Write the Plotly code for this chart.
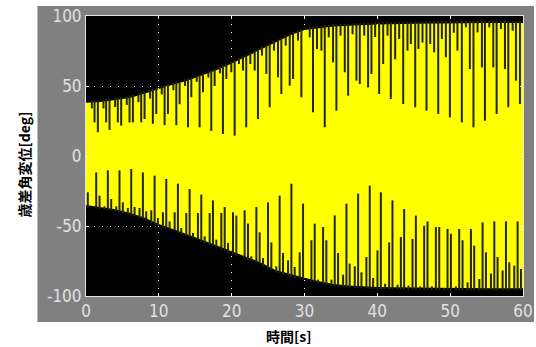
import numpy as np
import plotly.graph_objects as go

# Envelope of the precession angle oscillation [deg]
env_t = [0, 2, 4, 6, 8, 10, 12, 14, 16, 18, 20, 22, 24, 26, 28, 30, 32, 34, 36, 38, 40, 45, 50, 55, 60]
env_upper = [38, 38.5, 40, 41.5, 44.5, 48, 51, 54, 57.5, 61.5, 66, 71, 76.5, 81, 86, 90, 91.5,
             92.5, 93, 93.5, 94, 94.5, 95, 95, 95]
env_lower = [-35, -36.5, -38, -40.5, -44, -48.5, -52, -56, -60, -64, -68.5, -72, -76, -81.5, -84.5,
             -87, -89.5, -91.5, -92.5, -93, -93.5, -94, -94.5, -94.5, -94.5]

# Peaks that fall short of the upper envelope: time [s], peak value [deg]
top_t = [0.8, 1.17, 1.63, 2.4, 2.77, 3.23, 4.0, 4.37, 4.83, 5.6, 5.98, 6.44, 7.2, 7.58, 8.04,
         8.8, 9.18, 9.65, 10.4, 10.79, 11.25, 12.0, 12.4, 12.85, 13.6, 14.0, 14.46, 15.2, 15.6,
         16.06, 16.8, 17.2, 17.66, 18.4, 18.8, 19.27,
         19.95, 20.41, 21.0, 21.55, 22.0, 22.56, 23.16, 23.61, 24.16, 24.76, 25.22, 25.81, 26.36,
         26.82, 27.42, 27.97, 28.43, 29.11, 29.57, 30.72, 31.17, 31.72, 32.32, 32.78, 33.33, 33.92,
         34.38, 34.95, 35.53, 35.99, 36.6, 37.13, 37.59, 38.2, 38.73, 39.19, 39.7,
         40.25, 40.8, 41.4, 41.85, 42.45, 43.0, 43.55, 44.14, 44.6, 45.2, 45.65, 46.2, 46.75, 47.26,
         47.8, 48.36, 48.86, 49.41, 49.96, 50.5, 51.0, 51.6, 52.16, 52.7, 53.2, 53.76, 54.36, 54.77,
         55.37, 55.92, 56.38, 56.97, 57.52, 57.98, 58.58, 59.03, 59.58]
top_v = [34, 24, 17, 34, 24, 18.6, 35, 24, 21.7, 36.5, 24, 24, 38.5, 24, 26.4,
         41, 23, 30, 44, 22, 30, 47, 22, 37, 50, 20.5, 42, 53, 20.5,
         45.5, 56, 18, 50, 59, 15.7, 55,
         59.8, 14.5, 65.7, 61, 20.5, 65.7, 61, 26.4, 71.7, 58.6, 34.8, 75.2, 56.2,
         44.3, 78.8, 50.2, 55, 82.4, 41.9, 84.8, 31.2, 76.4, 75.2, 20.5, 84.8, 66.9,
         32.4, 86, 59.8, 43.1, 87, 53.8, 51.4, 86, 49, 58.6, 85,
         44.3, 65.7, 86, 40.7, 69, 83.6, 37.1, 75.2, 80, 34.8, 76.4, 81, 32.4, 80,
         74, 30, 83.6, 70.5, 27.6, 88, 75.2, 24, 91.9, 62.1, 20.5, 88.3, 63.3, 25.2,
         91.9, 63.3, 30, 90.7, 62.1, 34.8, 89.5, 53.8, 37.1]

# Troughs that fall short of the lower envelope: time [s], trough value [deg]
bot_t = [0.25, 1.4, 1.86, 2.54, 3.0, 3.46, 4.15, 4.6, 5.06, 5.75, 6.21, 6.67, 7.35, 7.81, 8.27,
         8.96, 9.42, 9.87, 10.56, 11.02, 11.48, 12.17, 12.62, 13.08, 13.77, 14.23, 14.69, 15.37,
         15.83, 16.29, 16.98, 17.43, 17.89, 18.58, 19.04, 19.5,
         20.18, 20.64, 21.78, 22.24, 22.7, 23.39, 23.84, 24.3, 24.99, 25.45, 26.13, 26.59, 27.05,
         27.74, 28.2, 28.65, 29.34, 29.8, 30.95, 31.4, 31.86, 32.55, 33.0, 33.7, 34.15, 34.61,
         35.3, 35.76, 36.2, 36.9, 37.36, 37.82, 38.5, 38.96, 39.42,
         40.02, 40.48, 41.07, 41.62, 42.08, 42.77, 43.23, 43.68, 44.28, 44.83, 45.29, 45.88,
         46.43, 46.89, 47.49, 48.04, 48.5, 49.18, 49.64, 50.1, 50.79, 51.24, 51.7, 52.39, 52.85,
         53.3, 54.0, 54.45, 54.91, 55.6, 56.06, 56.51, 57.2, 57.66, 58.12, 58.8, 59.26, 59.72]
bot_v = [-25.9, -11.7, -28.3, -35.9, -10.2, -30.7, -35.9, -10.2, -33.1, -37.1, -9.3, -36.4,
         -37.1, -11.7, -39.5, -38.8, -14.0, -44.3, -40.2, -16.4, -46.7, -40.2, -19.8, -51.4,
         -40.7, -23.6, -55, -40.7, -27.6, -57.4, -40.7, -31.7, -59.8, -40.7, -36.4, -62.1,
         -40.2, -42.6, -38.8, -48.3, -71.7, -36.4, -54.5, -72.9, -33.1, -61.7, -78.8, -28.3,
         -69.3, -74.5, -19.8, -79.3, -68.8, -34.0, -60.2, -48.3, -88.3, -50.7, -60.2, -88.3,
         -42.4, -69.3, -84.8, -34.0, -76.9, -78.8, -26.9, -83.1, -72.1, -21.2, -87.1,
         -67.4, -25.9, -91.2, -61.7, -31.7, -91.9, -57.9, -37.9, -92.6, -59.3, -42.6, -93.1,
         -49.8, -46.7, -93.1, -50.7, -50.7, -94.3, -52.1, -55.5, -93.1, -52.1, -60.2, -90.2,
         -52.1, -64.0, -87.9, -47.4, -68.8, -84.0, -46.7, -72.1, -81.7, -46.7, -75.9, -78.3,
         -46.7, -80.7]

x_ticks = [0, 10, 20, 30, 40, 50, 60]
y_ticks = [-100, -50, 0, 50, 100]
y_tick_text = ["-100", "-50", "0", "50", "100"]

YELLOW = "#ffff00"
GAP = "#24241a"
TICK_FONT = dict(family="Liberation Sans Narrow, DejaVu Sans Condensed, sans-serif",
                 size=17, color="#e2e2e2")


def gap_segments(ts, vs, edge):
    xs, ys = [], []
    for t, v in zip(ts, vs):
        start = float(np.interp(t, env_t, edge))
        start += 1.5 if start > 0 else -1.5
        xs += [t, t, None]
        ys += [start, v, None]
    return xs, ys


fig = go.Figure()

# Yellow band swept by the fast oscillation
fig.add_trace(go.Scatter(x=env_t, y=env_lower, mode="lines", line=dict(width=0, color=YELLOW),
                         hoverinfo="skip", showlegend=False))
fig.add_trace(go.Scatter(x=env_t, y=env_upper, mode="lines", line=dict(width=0, color=YELLOW),
                         fill="tonexty", fillcolor=YELLOW, hoverinfo="skip", showlegend=False))

tx, ty = gap_segments(top_t, top_v, env_upper)
bx, by = gap_segments(bot_t, bot_v, env_lower)
for xs, ys in ((tx, ty), (bx, by)):
    fig.add_trace(go.Scatter(x=xs, y=ys, mode="lines", line=dict(color=GAP, width=2),
                             hoverinfo="skip", showlegend=False, connectgaps=False))

axis_common = dict(
    automargin=False,
    showgrid=True, gridcolor="#ffffff", gridwidth=1, griddash="1px,7px",
    zeroline=False, showline=True, linecolor="#e4e4e4", linewidth=1, mirror="ticks",
    ticks="inside", ticklen=3, tickcolor="#ffffff", tickwidth=1, tickfont=TICK_FONT,
)

fig.update_xaxes(range=[0, 60], tickvals=x_ticks, ticktext=[str(v) for v in x_ticks], **axis_common)
fig.update_yaxes(range=[-100, 100], tickvals=y_ticks, ticktext=y_tick_text, **axis_common)

fig.update_layout(
    width=536, height=347,
    margin=dict(l=86, r=13, t=16, b=51, pad=0),
    paper_bgcolor="#ffffff", plot_bgcolor="#000000",
    shapes=[
        # grey scope panel
        dict(type="rect", xref="paper", yref="paper", x0=-0.1111, x1=1.0252, y0=-0.0929, y1=1.0357,
             fillcolor="#808080", line=dict(width=0), layer="below"),
        # black plotting area
        dict(type="rect", xref="paper", yref="paper", x0=0, x1=1, y0=0, y1=1,
             fillcolor="#000000", line=dict(width=0), layer="below"),
    ],
    annotations=[
        dict(text="<b>時間[s]</b>", xref="paper", yref="paper", x=0.4639, y=-0.1429,
             showarrow=False, xanchor="center", yanchor="middle",
             font=dict(family="Noto Sans CJK JP", size=14, color="#000000")),
        dict(text="<b>歳差角変位[deg]</b>", xref="paper", yref="paper", x=-0.142, y=0.4696,
             showarrow=False, xanchor="center", yanchor="middle", textangle=-90,
             font=dict(family="Noto Sans CJK JP", size=14, color="#000000")),
    ],
)

fig.write_html("out.html")
